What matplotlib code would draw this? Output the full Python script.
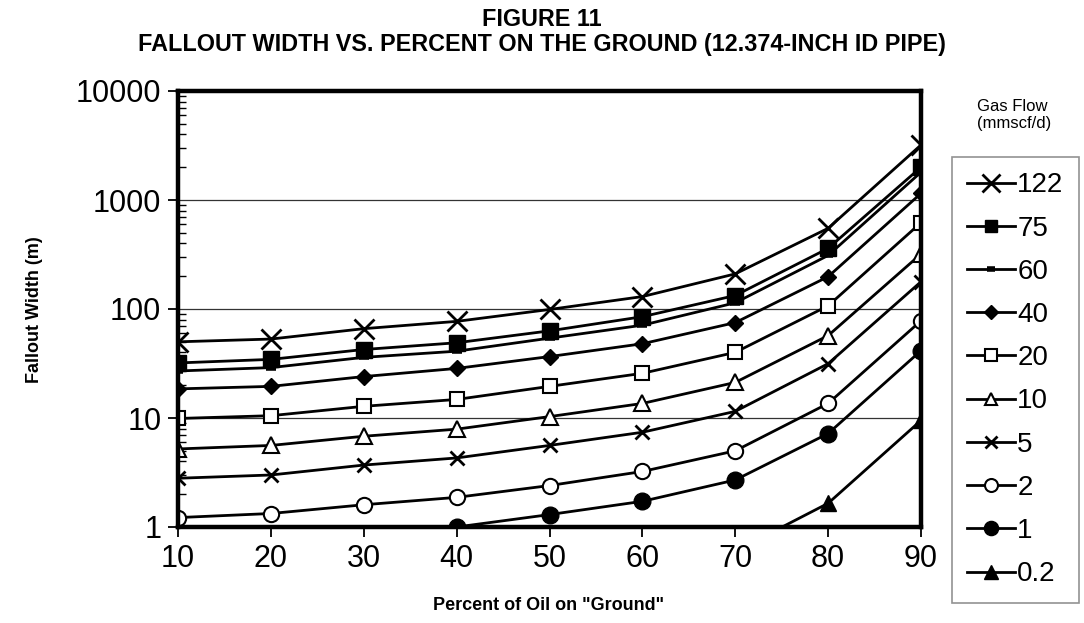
import numpy as np
import matplotlib
matplotlib.use("Agg")
import matplotlib.pyplot as plt
from matplotlib.ticker import NullFormatter, LogLocator

plt.rcParams['font.family'] = ['Liberation Sans', 'DejaVu Sans']

# Percent of oil on the ground
percent_oil = [10, 20, 30, 40, 50, 60, 70, 80, 90]

# Fallout width (m) for each gas flow rate (mmscf/d); NaN = below the plotted range
width_122 = [50, 53, 66, 77, 99, 130, 210, 550, 3200]
width_75 = [32, 34.5, 42.5, 49, 63, 85, 133, 360, 2000]
width_60 = [27, 29, 36, 41, 54, 71, 114, 310, 1800]
width_40 = [18.5, 19.5, 24, 28.5, 36.6, 48, 75, 198, 1150]
width_20 = [9.9, 10.5, 12.8, 14.8, 19.5, 25.7, 40, 107, 620]
width_10 = [5.2, 5.6, 6.8, 7.9, 10.3, 13.6, 21.2, 57, 320]
width_5 = [2.8, 3.0, 3.7, 4.3, 5.6, 7.4, 11.5, 31.5, 178]
width_2 = [1.22, 1.33, 1.6, 1.87, 2.4, 3.23, 5.0, 13.6, 78]
width_1 = [np.nan, np.nan, np.nan, 1.0, 1.3, 1.72, 2.7, 7.2, 41.5]
width_0_2 = [np.nan, np.nan, np.nan, np.nan, np.nan, np.nan, 0.6, 1.65, 9.5]

flow_labels = ["122", "75", "60", "40", "20", "10", "5", "2", "1", "0.2"]
series = [width_122, width_75, width_60, width_40, width_20,
          width_10, width_5, width_2, width_1, width_0_2]

# marker style per gas flow
styles = [
    dict(marker="x", markersize=15, markeredgewidth=2.0),
    dict(marker="s", markersize=11, markerfacecolor="black"),
    dict(marker="_", markersize=7, markeredgewidth=4),
    dict(marker="D", markersize=8.5, markerfacecolor="black"),
    dict(marker="s", markersize=10, markerfacecolor="white", markeredgewidth=1.5),
    dict(marker="^", markersize=11, markerfacecolor="white", markeredgewidth=1.5),
    dict(marker="x", markersize=10, markeredgewidth=2.0),
    dict(marker="o", markersize=11, markerfacecolor="white", markeredgewidth=1.5),
    dict(marker="o", markersize=12, markerfacecolor="black"),
    dict(marker="^", markersize=12, markerfacecolor="black"),
]

fig = plt.figure(figsize=(10.84, 6.23), dpi=100)
ax = fig.add_axes([178 / 1084, 1 - 527 / 623, (921 - 178) / 1084, (527 - 91) / 623])

for vals, lab, st in zip(series, flow_labels, styles):
    ax.plot(percent_oil, vals, color="black", linewidth=2.0,
            markeredgecolor="black", label=lab, **st)

ax.set_yscale("log")
ax.set_ylim(1, 10000)
ax.set_xlim(10, 90)
ax.set_xticks(percent_oil)
ax.set_yticks([1, 10, 100, 1000, 10000])
ax.set_yticklabels(["1", "10", "100", "1000", "10000"])
ax.yaxis.set_minor_locator(LogLocator(base=10, subs=np.arange(2, 10)))
ax.yaxis.set_minor_formatter(NullFormatter())

ax.tick_params(axis="both", which="major", labelsize=22, direction="out",
               length=7, width=1.3, pad=5)
ax.tick_params(axis="y", which="minor", direction="in", length=6, width=1.0)

ax.grid(True, axis="y", which="major", color="#333333", linewidth=0.9)
ax.set_axisbelow(True)
for sp in ax.spines.values():
    sp.set_linewidth(3.2)
    sp.set_color("black")

fig.text(35 / 1084, 1 - 310 / 623, "Fallout Width (m)", rotation=90,
         ha="center", va="center", fontsize=13, fontweight="bold")
fig.text(549 / 1084, 1 - 605 / 623, 'Percent of Oil on "Ground"',
         ha="center", va="center", fontsize=13, fontweight="bold")

fig.text(542 / 1084, 1 - 19 / 623, "FIGURE 11", ha="center", va="center",
         fontsize=16.8, fontweight="bold")
fig.text(542 / 1084, 1 - 45 / 623,
         "FALLOUT WIDTH VS. PERCENT ON THE GROUND (12.374-INCH ID PIPE)",
         ha="center", va="center", fontsize=16.8, fontweight="bold")

fig.text(977 / 1084, 1 - 115 / 623, "Gas Flow\n(mmscf/d)", ha="left", va="center",
         fontsize=12, linespacing=1.1)

leg = ax.legend(loc="upper left", bbox_to_anchor=(952 / 1084, 1 - 157 / 623),
                bbox_transform=fig.transFigure, frameon=True, fancybox=False,
                fontsize=20, handlelength=1.7, handletextpad=0.1,
                labelspacing=0.62, borderpad=0.55, borderaxespad=0)
leg.get_frame().set_edgecolor("#777777")
leg.get_frame().set_linewidth(1.2)
for h in leg.legend_handles:
    h.set_markersize(h.get_markersize() * 0.85)

fig.savefig("out.png", dpi=100)
